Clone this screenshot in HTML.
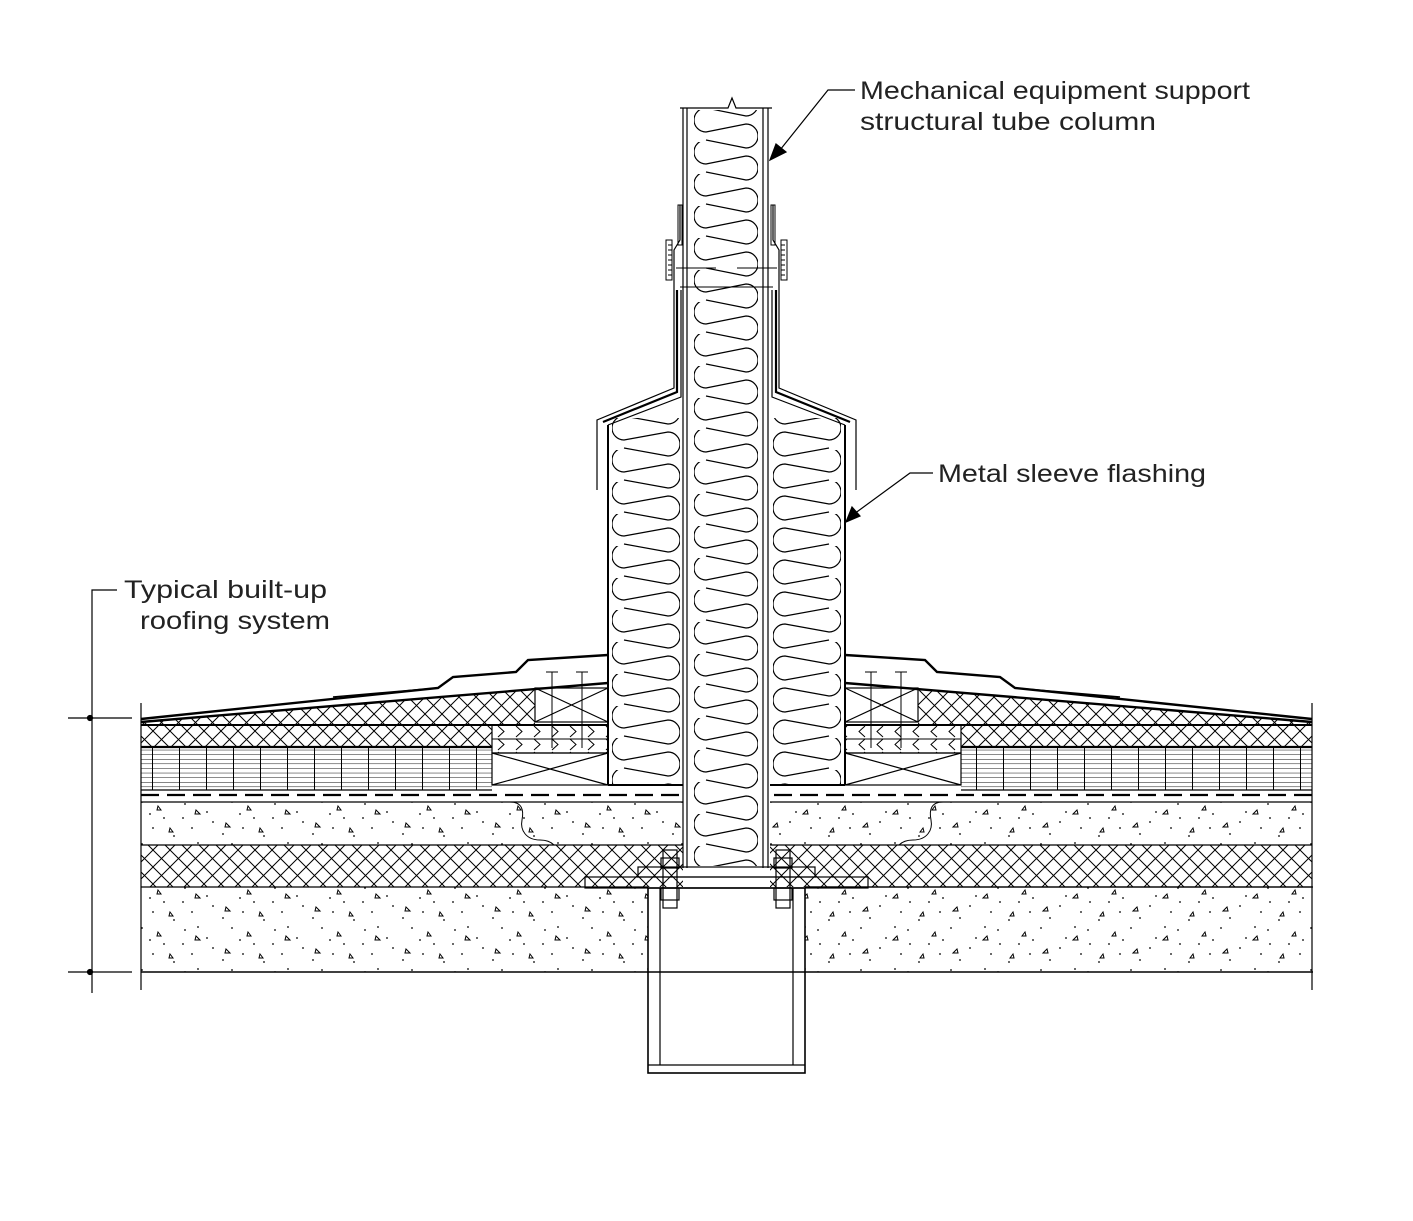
<!DOCTYPE html>
<html><head><meta charset="utf-8"><style>
html,body{margin:0;padding:0;background:#fff}
svg{display:block}
text{font-family:"Liberation Sans",sans-serif;font-size:25px;fill:#222}
</style></head><body>
<svg width="1413" height="1221" viewBox="0 0 1413 1221" xmlns="http://www.w3.org/2000/svg">
<defs>
<pattern id="xh" width="17" height="17" patternUnits="userSpaceOnUse">
<path d="M0,0L17,17M17,0L0,17" stroke="#000" stroke-width="1" fill="none"/>
</pattern>
<pattern id="hl" width="27" height="4.6" patternUnits="userSpaceOnUse" x="152">
<path d="M0,0H27M0.5,0V4.6" stroke="#000" stroke-width="1" fill="none"/>
</pattern>
<pattern id="cc" width="90" height="42" patternUnits="userSpaceOnUse">
<g fill="#000">
<circle cx="5" cy="6" r="0.9"/><circle cx="27" cy="14" r="0.9"/><circle cx="52" cy="4" r="0.9"/><circle cx="74" cy="20" r="0.9"/><circle cx="12" cy="30" r="0.9"/><circle cx="43" cy="36" r="0.9"/><circle cx="63" cy="30" r="0.9"/><circle cx="84" cy="38" r="0.9"/><circle cx="33" cy="24" r="0.9"/><circle cx="60" cy="16" r="0.9"/><circle cx="3" cy="20" r="0.9"/><circle cx="18" cy="3" r="0.9"/>
</g>
<g stroke="#000" stroke-width="1" fill="none">
<path d="M16,12l4,4h-5z"/><path d="M68,8l3,4h-4z"/><path d="M46,25l4,4h-5z"/><path d="M80,30l3,4h-4z"/>
</g>
</pattern>
<pattern id="bc" width="64" height="32" patternUnits="userSpaceOnUse" x="694" y="110">
<path d="M12,-2A12,12 0 0 0 12,22L52,14A12,12 0 0 1 52,38L12,30M52,-18A12,12 0 0 1 52,6L12,-2" stroke="#000" stroke-width="1.2" fill="none"/>
</pattern>
<pattern id="bs" width="68" height="32" patternUnits="userSpaceOnUse" x="612" y="418">
<path d="M12,-2A12,12 0 0 0 12,22L56,14A12,12 0 0 1 56,38L12,30M56,-18A12,12 0 0 1 56,6L12,-2" stroke="#000" stroke-width="1.2" fill="none"/>
</pattern>
<pattern id="ch" width="18" height="13" patternUnits="userSpaceOnUse" x="492" y="725">
<path d="M6,1L12,6.5L6,12" stroke="#000" stroke-width="1" fill="none"/>
</pattern>
<g id="half" stroke="#000" fill="none" stroke-width="1.2">
<line x1="141" y1="703" x2="141" y2="990"/>
<polygon points="141,722 535,690 535,725 141,725" fill="url(#xh)" stroke="none"/>
<polyline points="141,719 438,688 453,677 516,672 528,660 608,655" stroke-width="2.4"/>
<polyline points="333,697 438,688" stroke-width="1.5"/>
<polyline points="141,722 608,683" stroke-width="2.4"/>
<line x1="141" y1="725" x2="608" y2="725" stroke-width="2"/>
<rect x="535" y="688" width="73" height="34"/>
<path d="M535,688L608,722M535,722L608,688"/>
<path d="M552,672V748M582,672V748M546,672h12M576,672h12" stroke-width="1"/>
<rect x="141" y="725" width="351" height="22" fill="url(#xh)" stroke="none"/>
<line x1="141" y1="747" x2="492" y2="747" stroke-width="2.2"/>
<rect x="141" y="747" width="351" height="43" fill="url(#hl)" stroke="none"/>
<line x1="141" y1="790" x2="492" y2="790"/>
<rect x="492" y="725" width="116" height="28" fill="url(#ch)"/>
<line x1="492" y1="739" x2="608" y2="739" stroke-width="1"/>
<rect x="492" y="753" width="116" height="32"/>
<path d="M492,753L608,785M492,785L608,753"/>
<line x1="141" y1="795" x2="683" y2="795" stroke-width="2.2" stroke-dasharray="18,8"/>
<line x1="141" y1="802" x2="683" y2="802"/>
<rect x="141" y="802" width="542" height="43" fill="url(#cc)" stroke="none"/>
<path d="M510,802c12,0 14,8 12,18c-2,10 4,20 18,20c8,0 12,3 14,5" stroke-width="1"/>
<rect x="141" y="845" width="542" height="42" fill="url(#xh)" stroke="none"/>
<line x1="141" y1="845" x2="683" y2="845"/>
<line x1="141" y1="887" x2="648" y2="887"/>
<rect x="141" y="887" width="507" height="85" fill="url(#cc)" stroke="none"/>
<rect x="612" y="418" width="68" height="367" fill="url(#bs)" stroke="none"/>
<line x1="608" y1="425" x2="608" y2="785" stroke-width="2"/>
<line x1="608" y1="785" x2="683" y2="785" stroke-width="2"/>
<polyline points="597,490 597,420 674,388 674,250 680,240 680,205" stroke-width="1.2"/>
<polyline points="603,422 677,392 677,290" stroke-width="2.2"/>
<polyline points="608,425 681,397 681,290" stroke-width="1.2"/>
<path d="M666,240h6v40h-6zM668,245h4M668,250h4M668,255h4M668,260h4M668,265h4M668,270h4M668,275h4" stroke-width="1"/>
<path d="M678,205h4v40h-4z" stroke-width="1"/>
<path d="M676,268h40M680,287h50" stroke-width="1"/>
<rect x="663" y="850" width="14" height="58"/>
<rect x="661" y="858" width="18" height="10"/>
<rect x="661" y="888" width="18" height="12"/>
</g>
</defs>

<use href="#half"/>
<use href="#half" transform="translate(1453,0) scale(-1,1)"/>

<g stroke="#000" fill="none" stroke-width="1.2">
<rect x="694" y="110" width="64" height="756" fill="url(#bc)" stroke="none"/>
<line x1="683" y1="108" x2="683" y2="868"/>
<line x1="687" y1="108" x2="687" y2="868"/>
<line x1="763" y1="108" x2="763" y2="868"/>
<line x1="768" y1="108" x2="768" y2="868"/>
<polyline points="680,108 728,108 732,98 736,108 772,108"/>
<rect x="638" y="867" width="177" height="10"/>
<rect x="585" y="877" width="283" height="11"/>
<rect x="648" y="888" width="157" height="185" stroke-width="1.6"/>
<line x1="660" y1="888" x2="660" y2="1065"/>
<line x1="793" y1="888" x2="793" y2="1065"/>
<line x1="648" y1="1065" x2="805" y2="1065"/>
<line x1="141" y1="972" x2="1313" y2="972" stroke-width="1.6"/>
<line x1="805" y1="887" x2="1313" y2="887"/>
<polyline points="117,590 92,590 92,993"/>
<line x1="68" y1="718" x2="132" y2="718"/>
<line x1="68" y1="972" x2="132" y2="972"/>
<circle cx="90" cy="718" r="2.5" fill="#000"/>
<circle cx="90" cy="972" r="2.5" fill="#000"/>
<polyline points="855,90 828,90 780,150"/>
<polygon points="770,160 776,144 786,152" fill="#000"/>
<polyline points="933,473 910,473 854,514"/>
<polygon points="846,522 852,507 860,516" fill="#000"/>
</g>

<text x="860" y="99" textLength="390" lengthAdjust="spacingAndGlyphs">Mechanical equipment support</text>
<text x="860" y="130" textLength="296" lengthAdjust="spacingAndGlyphs">structural tube column</text>
<text x="938" y="482" textLength="268" lengthAdjust="spacingAndGlyphs">Metal sleeve flashing</text>
<text x="124" y="598" textLength="203" lengthAdjust="spacingAndGlyphs">Typical built-up</text>
<text x="140" y="629" textLength="190" lengthAdjust="spacingAndGlyphs">roofing system</text>
</svg>
</body></html>
